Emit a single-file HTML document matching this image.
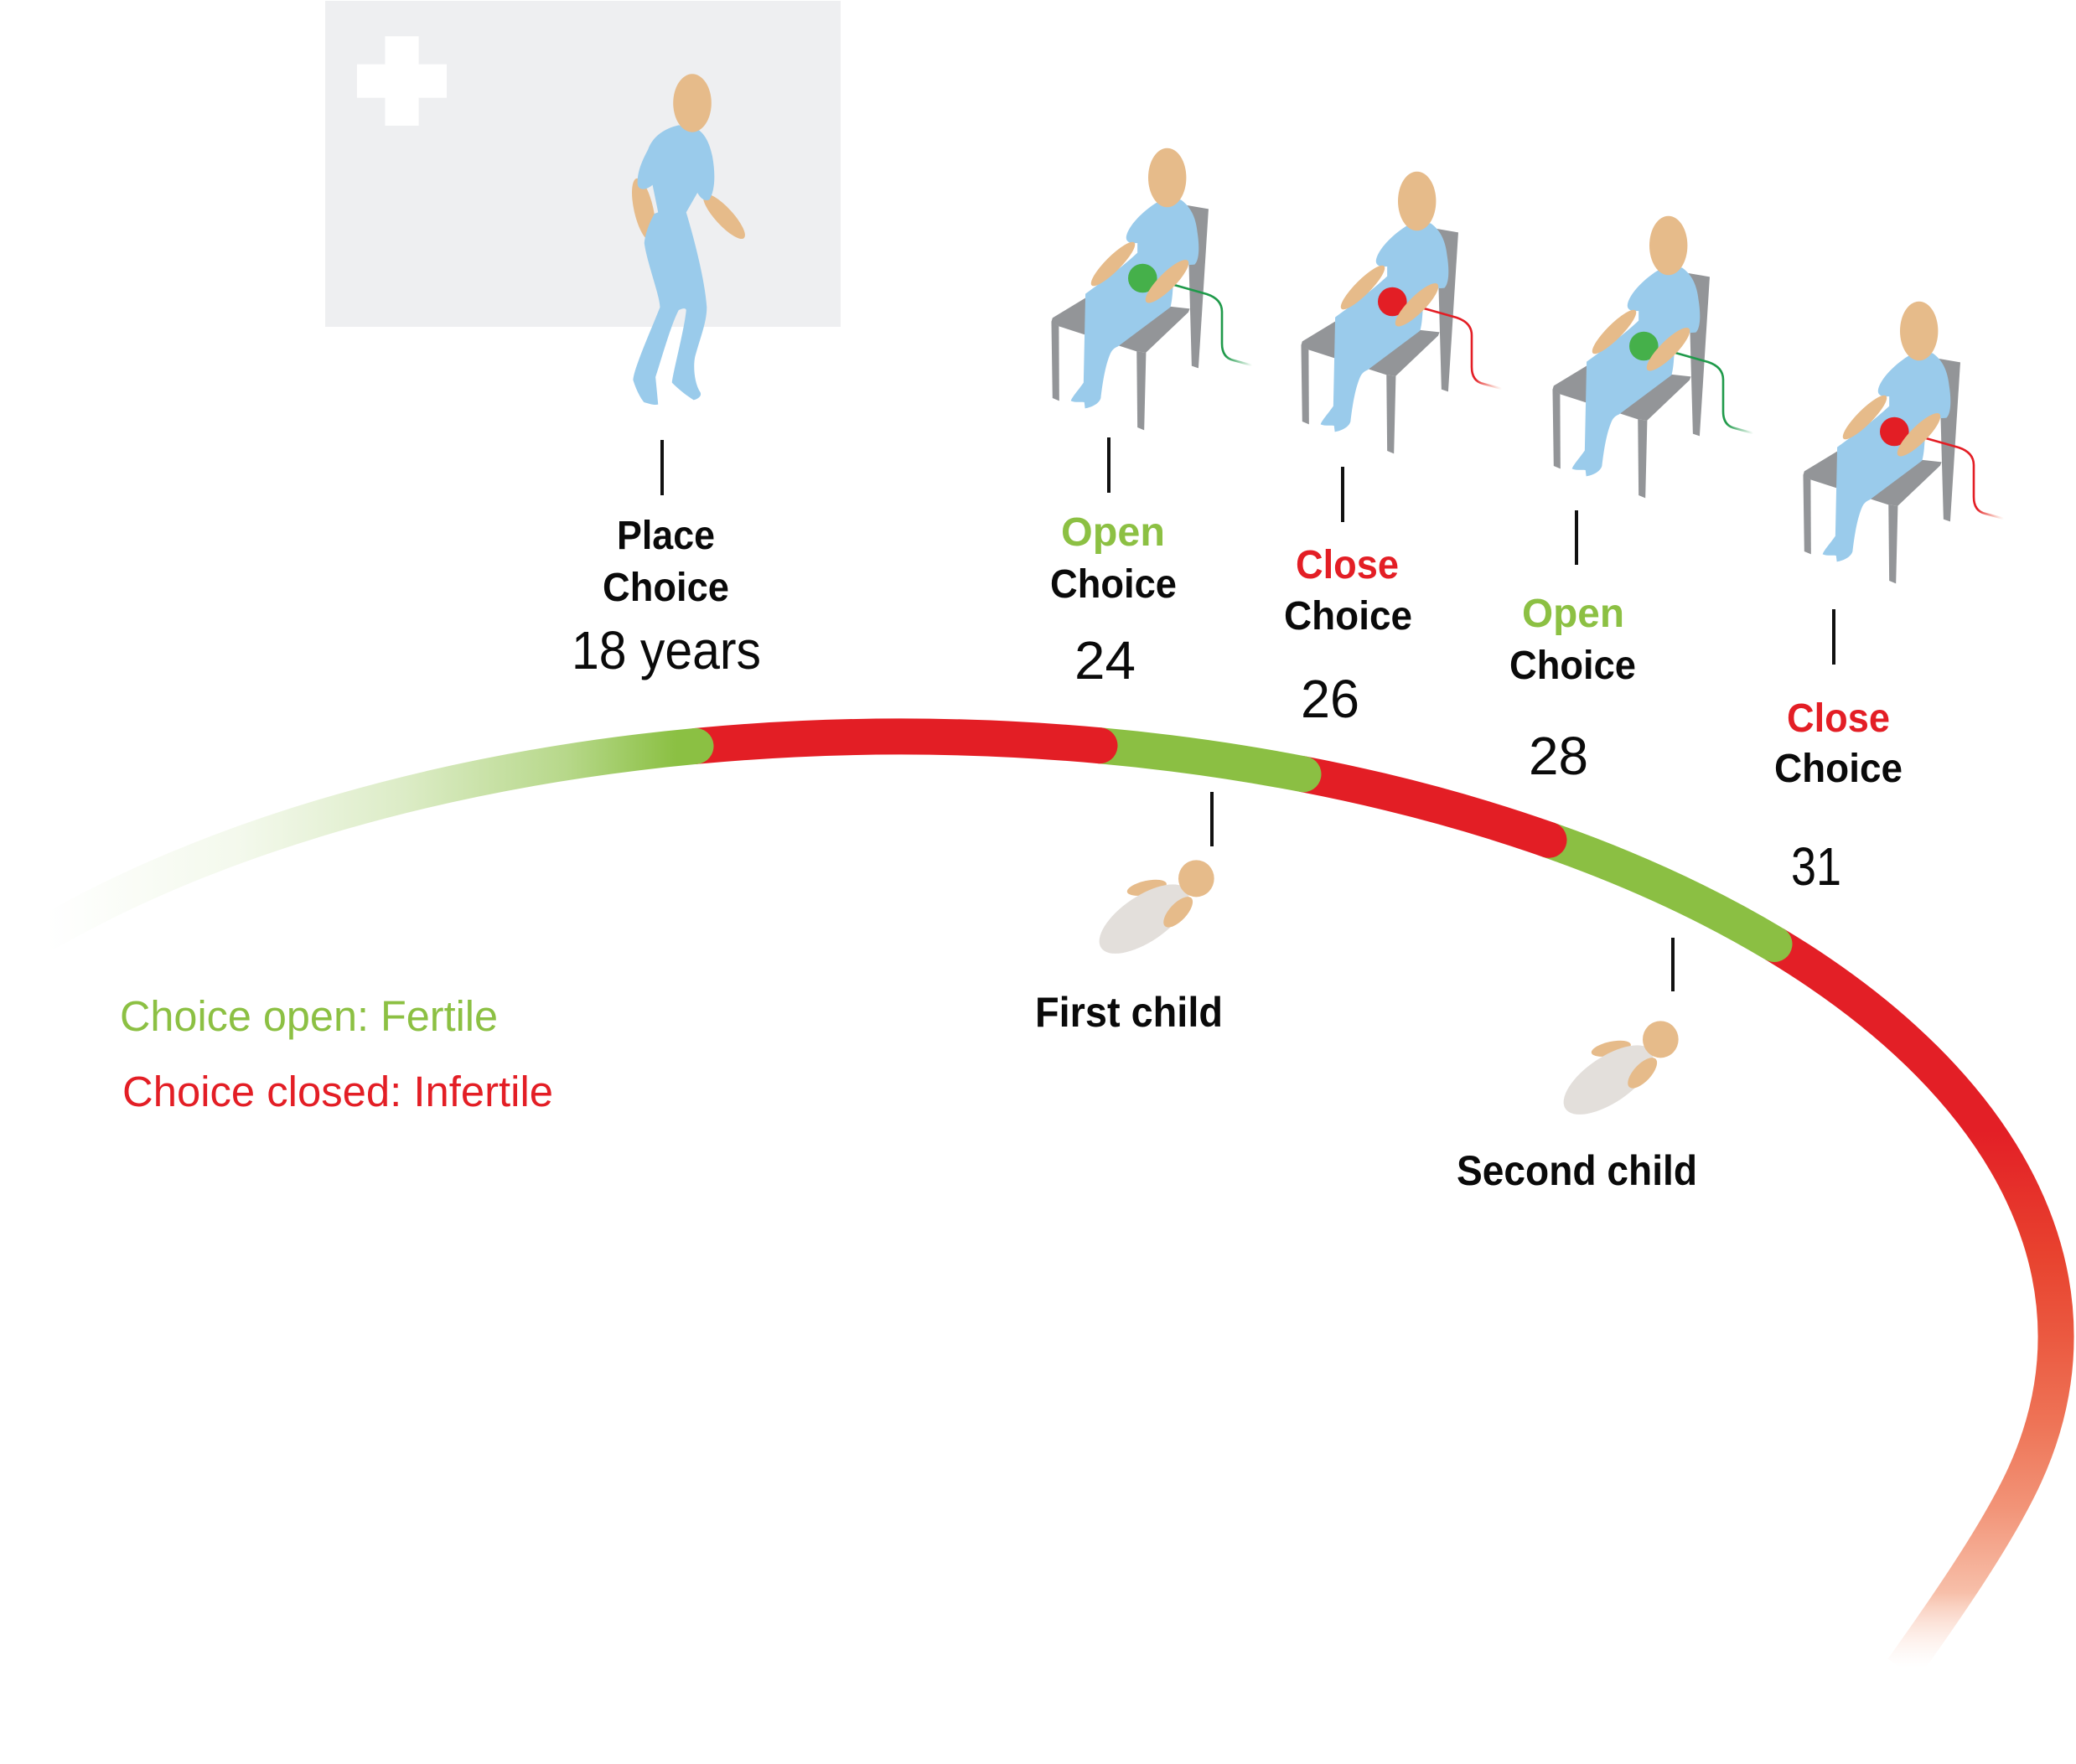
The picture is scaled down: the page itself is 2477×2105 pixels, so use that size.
<!DOCTYPE html>
<html><head><meta charset="utf-8"><style>
html,body{margin:0;padding:0;background:#fff;}
svg{display:block;}
text{font-family:"Liberation Sans",sans-serif;}
</style></head><body>
<svg width="2477" height="2105" viewBox="0 0 2477 2105" xmlns="http://www.w3.org/2000/svg">
<defs>
 <linearGradient id="gl" gradientUnits="userSpaceOnUse" x1="55" y1="0" x2="830" y2="0">
  <stop offset="0" stop-color="#8bc043" stop-opacity="0"/>
  <stop offset="0.3" stop-color="#8bc043" stop-opacity="0.1"/>
  <stop offset="0.55" stop-color="#8bc043" stop-opacity="0.3"/>
  <stop offset="0.8" stop-color="#8bc043" stop-opacity="0.62"/>
  <stop offset="0.97" stop-color="#8bc043" stop-opacity="1"/>
 </linearGradient>
 <linearGradient id="gr" gradientUnits="userSpaceOnUse" x1="0" y1="1350" x2="0" y2="1990">
  <stop offset="0" stop-color="#e31f26"/>
  <stop offset="0.234" stop-color="#e8432f"/>
  <stop offset="0.39" stop-color="#eb5a41"/>
  <stop offset="0.547" stop-color="#ee7457"/>
  <stop offset="0.703" stop-color="#f29478"/>
  <stop offset="0.86" stop-color="#f7bfa9"/>
  <stop offset="1" stop-color="#fde8e0" stop-opacity="0"/>
 </linearGradient>
 <linearGradient id="wg" gradientUnits="userSpaceOnUse" x1="1462" y1="0" x2="1494" y2="0">
  <stop offset="0" stop-color="#1f9a4a"/>
  <stop offset="1" stop-color="#1f9a4a" stop-opacity="0"/>
 </linearGradient>
 <linearGradient id="wr" gradientUnits="userSpaceOnUse" x1="1462" y1="0" x2="1494" y2="0">
  <stop offset="0" stop-color="#e31e25"/>
  <stop offset="1" stop-color="#f08060" stop-opacity="0"/>
 </linearGradient>
 <g id="chairfig">
  <g transform="translate(1200 150) scale(0.44643 0.33333)">
   <polygon fill="#939598" points="485,285 542,298 515,868 497,860"/>
   <polygon fill="#939598" points="125,688 215,615 492,655 488,668 375,812 350,808 142,718 122,702"/>
   <polygon fill="#939598" points="122,700 142,718 143,985 125,975"/>
   <polygon fill="#939598" points="350,808 375,812 370,1090 352,1080"/>
   <path fill="#9acbeb" d="M410,270 C370,300 325,360 322,400 C322,418 335,422 352,420 L352,455 C300,520 240,575 213,602 L208,920 C195,945 178,970 174,985 C185,992 200,988 210,990 L212,1012 C230,1008 250,995 254,975 C258,930 265,860 280,815 C285,800 292,795 300,790 L440,650 C446,620 446,590 448,560 L470,500 C480,495 490,500 505,497 C518,480 518,430 512,380 C508,330 495,290 468,265 Z"/>
  </g>
  <ellipse cx="1328" cy="315" rx="36" ry="9" fill="#e6bb8a" transform="rotate(-45 1328 315)"/>
  <ellipse cx="1392.7" cy="212" rx="22.7" ry="35.3" fill="#e6bb8a"/>
 </g>
 <ellipse id="forearm" cx="1392.5" cy="335.8" rx="35" ry="10" fill="#e6bb8a" transform="rotate(-45 1392.5 335.8)"/>
 <path id="wire" d="M1401,340 L1440,351 C1452,355 1458,362 1458,372 L1458,410 C1458,422 1463,428 1472,430 L1494,436" fill="none" stroke-width="2.6"/>
 <g id="baby">
  <ellipse cx="355" cy="388" rx="72" ry="25" fill="#e6bb8a" transform="rotate(-12 355 388)"/>
  <ellipse cx="345" cy="500" rx="185" ry="82" fill="#e3dfdb" transform="rotate(-34 345 500)"/>
  <ellipse cx="532" cy="355" rx="64" ry="66" fill="#e6bb8a"/>
  <ellipse cx="467" cy="475" rx="69" ry="31" fill="#e6bb8a" transform="rotate(-47 467 475)"/>
 </g>
</defs>

<!-- clinic background -->
<rect x="388" y="1" width="615" height="389" fill="#eeeff1"/>
<rect x="459.4" y="43.3" width="40.2" height="106.7" fill="#fff"/>
<rect x="425.9" y="76.7" width="107.1" height="40" fill="#fff"/>

<!-- standing figure -->
<ellipse cx="768" cy="250" rx="38" ry="11.5" fill="#e6bb8a" transform="rotate(77.3 768 250)"/>
<ellipse cx="864" cy="258.3" rx="35" ry="10.5" fill="#e6bb8a" transform="rotate(47.4 864 258.3)"/>
<g transform="translate(350 0) scale(0.44643 0.33333)">
 <path fill="#9acbeb" d="M1030,448 C990,460 960,490 948,535 C930,580 918,620 920,660 C922,680 940,685 960,662 L975,760 L965,765 C950,800 940,840 938,870 C945,940 980,1060 980,1100 C950,1200 910,1320 908,1360 C915,1390 925,1420 937,1440 C950,1445 965,1452 975,1448 L968,1350 C985,1280 1010,1160 1030,1110 C1038,1105 1048,1100 1050,1110 C1045,1180 1015,1330 1012,1370 C1030,1395 1055,1420 1070,1432 C1082,1428 1092,1418 1088,1405 C1070,1370 1068,1300 1075,1270 C1090,1200 1105,1150 1105,1100 C1100,1000 1070,850 1050,760 L1080,690 C1088,710 1100,722 1112,715 C1128,680 1128,620 1120,560 C1112,510 1100,480 1080,462 Z"/>
</g>
<ellipse cx="826" cy="123" rx="22.8" ry="34.7" fill="#e6bb8a"/>

<!-- seated figures -->
<g>
 <use href="#chairfig"/>
 <use href="#wire" stroke="url(#wg)"/>
 <ellipse cx="1363.3" cy="332" rx="17.3" ry="17.3" fill="#45b04a"/>
 <use href="#forearm"/>
</g>
<g transform="translate(298 28)">
 <use href="#chairfig"/>
 <use href="#wire" stroke="url(#wr)"/>
 <ellipse cx="1363.3" cy="332" rx="17.3" ry="17.3" fill="#e31e25"/>
 <use href="#forearm"/>
</g>
<g transform="translate(598 81)">
 <use href="#chairfig"/>
 <use href="#wire" stroke="url(#wg)"/>
 <ellipse cx="1363.3" cy="332" rx="17.3" ry="17.3" fill="#45b04a"/>
 <use href="#forearm"/>
</g>
<g transform="translate(897 183)">
 <use href="#chairfig"/>
 <use href="#wire" stroke="url(#wr)"/>
 <ellipse cx="1363.3" cy="332" rx="17.3" ry="17.3" fill="#e31e25"/>
 <use href="#forearm"/>
</g>

<!-- timeline arc -->
<g fill="none" stroke-width="43">
 <path d="M2117,1126.5 A1378 716 0 0 1 2416,1760 C2384,1830 2320,1922 2270,1992" stroke="url(#gr)" stroke-linecap="butt"/>
 <path d="M1848,1002.3 A1378 716 0 0 1 2117,1126.5" stroke="#8bbf43" stroke-linecap="round"/>
 <path d="M1555,923.8 A1378 716 0 0 1 1848,1002.3" stroke="#e31e25" stroke-linecap="round"/>
 <path d="M1312,889.7 A1378 716 0 0 1 1555,923.8" stroke="#8bbf43" stroke-linecap="round"/>
 <path d="M830,890.4 A1378 716 0 0 1 1312,889.7" stroke="#e31e25" stroke-linecap="round"/>
 <path d="M55,1113.6 A1378 716 0 0 1 830,890.4" stroke="url(#gl)" stroke-linecap="round"/>
</g>

<!-- babies -->
<g transform="translate(1250 930) scale(0.33333)"><use href="#baby"/></g>
<g transform="translate(1804 1122) scale(0.33333)"><use href="#baby"/></g>

<!-- ticks -->
<g stroke="#111" stroke-width="4">
 <line x1="790" y1="525" x2="790" y2="591"/>
 <line x1="1323" y1="522" x2="1323" y2="588"/>
 <line x1="1602" y1="557" x2="1602" y2="623"/>
 <line x1="1881" y1="609" x2="1881" y2="674"/>
 <line x1="2188" y1="727" x2="2188" y2="793"/>
 <line x1="1446" y1="945" x2="1446" y2="1010"/>
 <line x1="1996" y1="1119" x2="1996" y2="1183"/>
</g>

<!-- labels -->
<g font-weight="bold" font-size="48" fill="#0a0a0a">
 <text x="736" y="655" textLength="117" lengthAdjust="spacingAndGlyphs">Place</text>
 <text x="719" y="717" textLength="151" lengthAdjust="spacingAndGlyphs">Choice</text>
 <text x="1266" y="651" textLength="124" lengthAdjust="spacingAndGlyphs" fill="#8cc043">Open</text>
 <text x="1253" y="713" textLength="151" lengthAdjust="spacingAndGlyphs">Choice</text>
 <text x="1546" y="690" textLength="123" lengthAdjust="spacingAndGlyphs" fill="#e31e25">Close</text>
 <text x="1532" y="751" textLength="153" lengthAdjust="spacingAndGlyphs">Choice</text>
 <text x="1816" y="748" textLength="122" lengthAdjust="spacingAndGlyphs" fill="#8cc043">Open</text>
 <text x="1801" y="810" textLength="151" lengthAdjust="spacingAndGlyphs">Choice</text>
 <text x="2132" y="873" textLength="123" lengthAdjust="spacingAndGlyphs" fill="#e31e25">Close</text>
 <text x="2117" y="933" textLength="153" lengthAdjust="spacingAndGlyphs">Choice</text>
</g>
<g font-size="64" fill="#0a0a0a">
 <text x="682" y="798" textLength="226" lengthAdjust="spacingAndGlyphs">18 years</text>
 <text x="1282" y="810" textLength="73" lengthAdjust="spacingAndGlyphs">24</text>
 <text x="1552" y="856" textLength="70" lengthAdjust="spacingAndGlyphs">26</text>
 <text x="1824" y="924" textLength="71" lengthAdjust="spacingAndGlyphs">28</text>
 <text x="2137" y="1056" textLength="60" lengthAdjust="spacingAndGlyphs">31</text>
</g>
<g font-weight="bold" font-size="50" fill="#0a0a0a">
 <text x="1235" y="1225" textLength="224" lengthAdjust="spacingAndGlyphs">First child</text>
 <text x="1738" y="1414" textLength="287" lengthAdjust="spacingAndGlyphs">Second child</text>
</g>
<g font-size="51">
 <text x="143" y="1230" textLength="451" lengthAdjust="spacingAndGlyphs" fill="#8cc043">Choice open: Fertile</text>
 <text x="146" y="1320" textLength="514" lengthAdjust="spacingAndGlyphs" fill="#e31e25">Choice closed: Infertile</text>
</g>
</svg>
</body></html>
